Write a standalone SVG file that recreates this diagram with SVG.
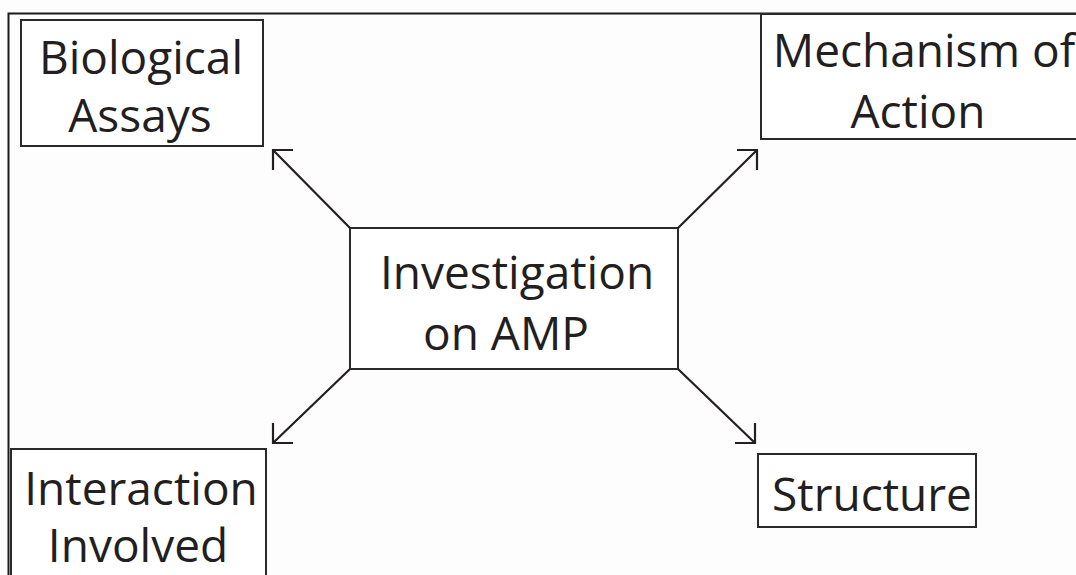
<svg xmlns="http://www.w3.org/2000/svg" width="1076" height="575" viewBox="0 0 1076 575">
<style>
.box{fill:#fff;stroke:#2a2a2a;stroke-width:2}
.frame{fill:none;stroke:#1a1a1a;stroke-width:2}
.t{font-family:"Open Sans","Noto Sans",sans-serif;font-size:46px;fill:#231f20;text-anchor:middle}
.c{fill:none;stroke:#231f20;stroke-width:2.2}
</style>
<rect width="1076" height="575" fill="#fdfdfd"/>
<path class="frame" d="M8.5,575 V13.5 H1076"/>
<g id="node-biological-assays">
<rect class="box" x="21" y="20" width="242" height="126"/>
<text class="t" x="141" y="74">Biological</text>
<text class="t" x="140" y="132">Assays</text>
</g>
<g id="node-mechanism">
<rect class="box" x="761" y="14" width="320" height="125"/>
<text class="t" x="924" y="67">Mechanism of</text>
<text class="t" x="918" y="128">Action</text>
</g>
<g id="node-interaction">
<rect class="box" x="11" y="449" width="255" height="135"/>
<text class="t" x="141" y="505">Interaction</text>
<text class="t" x="138" y="562">Involved</text>
</g>
<g id="node-structure">
<rect class="box" x="758" y="454" width="218" height="73"/>
<text class="t" x="872" y="511">Structure</text>
</g>
<g id="node-center">
<rect class="box" x="350" y="228" width="328" height="141"/>
<text class="t" x="517" y="289">Investigation</text>
<text class="t" x="506" y="350">on AMP</text>
</g>
<g id="connectors">
<path class="c" d="M350,228 L273,150 M293,150 H273 V170"/>
<path class="c" d="M678,228 L757,150 M737,150 H757 V170"/>
<path class="c" d="M350,369 L273,443 M293,443 H273 V423"/>
<path class="c" d="M678,369 L755,443 M735,443 H755 V423"/>
</g>
</svg>
